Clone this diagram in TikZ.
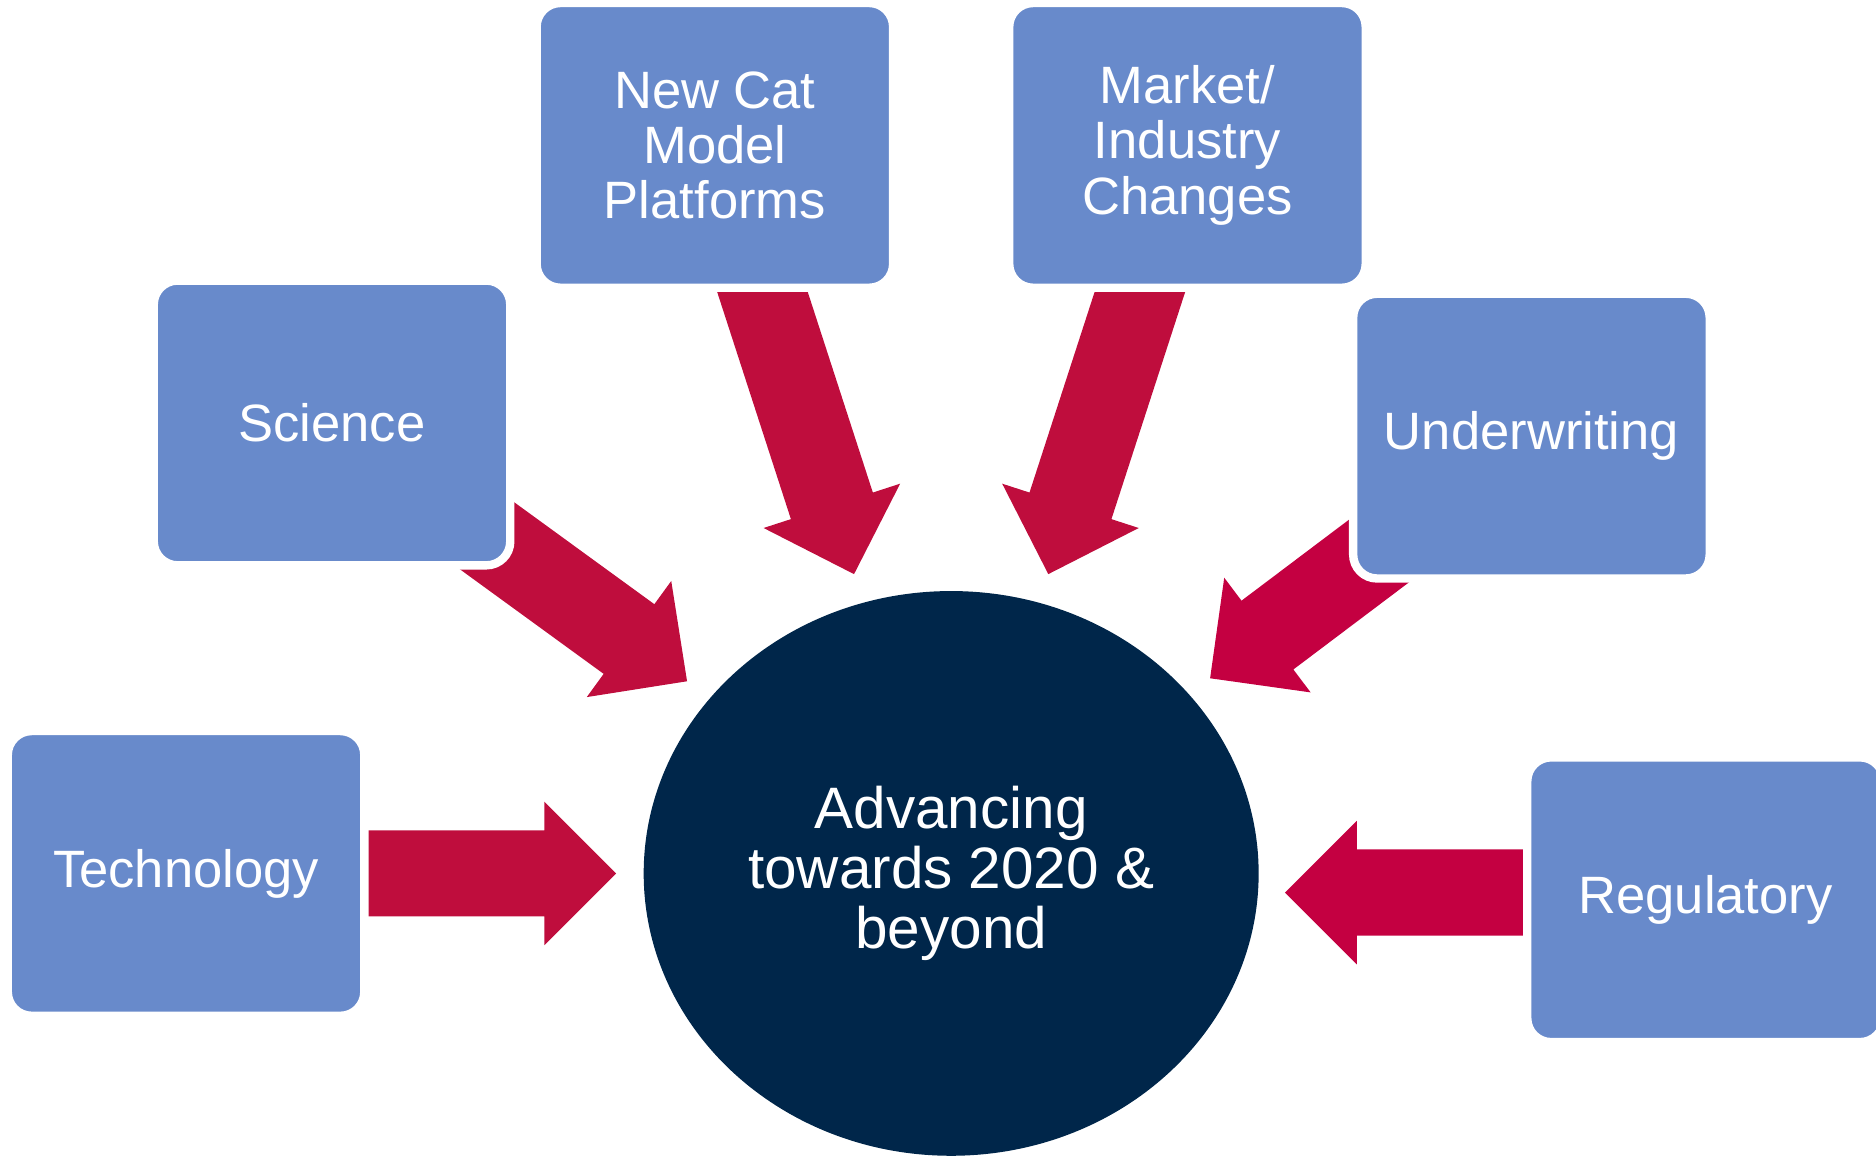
\documentclass[tikz,border=0pt]{standalone}
\usepackage{fontspec}
\setmainfont{Liberation Sans}
\usetikzlibrary{shapes,calc,backgrounds}

\definecolor{boxblue}{RGB}{104,138,203}
\definecolor{advnavy}{RGB}{0,38,74}
\definecolor{arrowred}{RGB}{191,13,61}
\definecolor{arrowpink}{RGB}{196,0,65}

% 块状箭头: 颜色, 起点, 终点, 箭尖到终点的距离, 长度
\newcommand{\blockarrow}[5]{%
    \coordinate (tip) at ($(#3)!#4cm!(#2)$);
    \coordinate (tail) at ($(#3)!#4cm+#5cm!(#2)$);
    \coordinate (hb) at ($(tip)!0.6cm!(tail)$);
    \fill[#1] ($(tail)!0.36cm!90:(tip)$) -- ($(hb)!0.36cm!90:(tip)$)
        -- ($(hb)!0.6cm!90:(tip)$) -- (tip) -- ($(hb)!0.6cm!-90:(tip)$)
        -- ($(hb)!0.36cm!-90:(tip)$) -- ($(tail)!0.36cm!-90:(tip)$) -- cycle;
}

\begin{document}
\begin{tikzpicture}[
        box/.style={rectangle,rounded corners=0.2cm,fill=boxblue,draw=white,line width=0.07cm,
            minimum width=2.98cm,minimum height=2.38cm,text=white,align=center,
            font=\fontsize{12.5}{13.1}\selectfont},
        centre/.style={ellipse,fill=advnavy,minimum width=5.14cm,minimum height=4.72cm,
            inner sep=0pt,text=white,align=center,font=\fontsize{13.9}{14.2}\selectfont}
    ]
        % 画布
        \useasboundingbox (0,0) rectangle (15.68,-9.654);

        % 中心椭圆
        \node[centre] (adv) at (7.95,-7.30) {Advancing\\towards 2020 \&\\beyond};

        % 六个方框
        \node[box] (newcat) at (5.975,-1.215) {New Cat\\Model\\Platforms};
        \node[box] (market) at (9.925,-1.215) {Market/\\Industry\\Changes};
        \node[box] (sci) at (2.775,-3.535) {Science};
        \node[box] (uw) at (12.80,-3.645) {Underwriting};
        \node[box] (tech) at (1.555,-7.30) {Technology};
        \node[box] (reg) at (14.255,-7.52) {Regulatory};

        % 右下箭头的对准点
        \coordinate (regaim) at ($(reg.center)+(0,0.06)$);
        \coordinate (advaim) at (adv.center |- regaim);

        % 箭头 (放在方框下面)
        \begin{pgfonlayer}{background}
            \blockarrow{arrowred}{tech}{adv}{2.80}{2.1}
            \blockarrow{arrowred}{sci}{adv}{2.73}{2.1}
            \blockarrow{arrowred}{newcat}{adv}{2.63}{2.7}
            \blockarrow{arrowred}{market}{adv}{2.63}{2.7}
            \blockarrow{arrowpink}{uw}{adv}{2.71}{2.1}
            \blockarrow{arrowpink}{regaim}{advaim}{2.79}{2.1}
        \end{pgfonlayer}
    \end{tikzpicture}
\end{document}
